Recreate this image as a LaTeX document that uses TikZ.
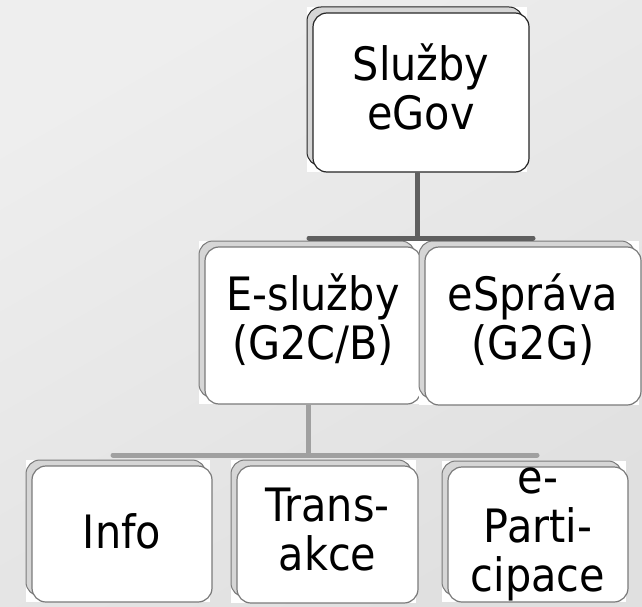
\documentclass[tikz,border=0pt]{standalone}
\usepackage{fontspec}
\setmainfont{DejaVu Sans}[FakeStretch=0.9]
\usetikzlibrary{calc}
\definecolor{bgA}{HTML}{EEEEEE}
\definecolor{bgB}{HTML}{E0E0E0}
\definecolor{backfill}{HTML}{D6D6D6}
\definecolor{darkconn}{HTML}{5F5F5F}
\definecolor{lightconn}{HTML}{A0A0A0}
\definecolor{grayedge}{HTML}{7A7A7A}
\tikzset{
  boxtxt/.style={align=center,inner sep=0pt,font=\fontsize{46}{49}\selectfont},
  frontbox/.style={draw=#1,line width=1.2pt,fill=white,rounded corners=14pt},
  backbox/.style={draw=#1,line width=1pt,fill=backfill,rounded corners=14pt},
  conndark/.style={draw=darkconn,line width=5pt},
  connlight/.style={draw=lightconn,line width=5pt},
}
% \mybox{name}{x0}{y0}{x1}{y1}{edge colour}{text}{text lift}
\newcommand\mybox[8]{%
  \fill[white] (#2-6,#3-6) rectangle (#4-2,#5);
  \path[backbox=#6] (#2-6,#3-6) rectangle (#4-6,#5-6);
  \path[frontbox=#6] (#2,#3) rectangle (#4,#5);
  \coordinate (#1-top) at ({(#2+#4)/2},#3);
  \coordinate (#1-bot) at ({(#2+#4)/2},#5);
  \node[boxtxt,yshift=#8pt] (#1) at ({(#2+#4)/2},{(#3+#5)/2}) {#7};
}
\begin{document}
\begin{tikzpicture}[x=1pt,y=-1pt]
\useasboundingbox (0,0) rectangle (642,607);
\shade[top color=bgA,bottom color=bgB,shading angle=30] (0,0) rectangle (642,607);
% connector joints
\coordinate (bar1L) at (309,238);
\coordinate (bar1R) at (533,238);
\coordinate (bar1M) at (417,238);
\coordinate (bar2L) at (113,455);
\coordinate (bar2R) at (537,455);
\coordinate (bar2M) at (308,455);
% boxes
\mybox{top}{313}{13}{529}{172}{black!85}{Služby\\eGov}{6}
\mybox{esl}{205}{247}{421}{404}{grayedge}{E-služby\\(G2C/B)}{6}
\mybox{espr}{425}{247}{641}{405}{grayedge}{eSpráva\\(G2G)}{6}
\mybox{info}{32}{466}{212}{602}{grayedge}{Info}{3}
\mybox{trans}{237}{466}{418}{603}{grayedge}{Trans-\\akce}{5}
\mybox{epart}{448}{467}{628}{602}{grayedge}{e-\\Parti-\\cipace}{0}
\draw[conndark] (top-bot -| bar1M) -- (bar1M);
\draw[conndark,line cap=round] (bar1L) -- (bar1R);
\draw[connlight] (esl-bot -| bar2M) -- (bar2M);
\draw[connlight,line cap=round] (bar2L) -- (bar2R);
\end{tikzpicture}
\end{document}
